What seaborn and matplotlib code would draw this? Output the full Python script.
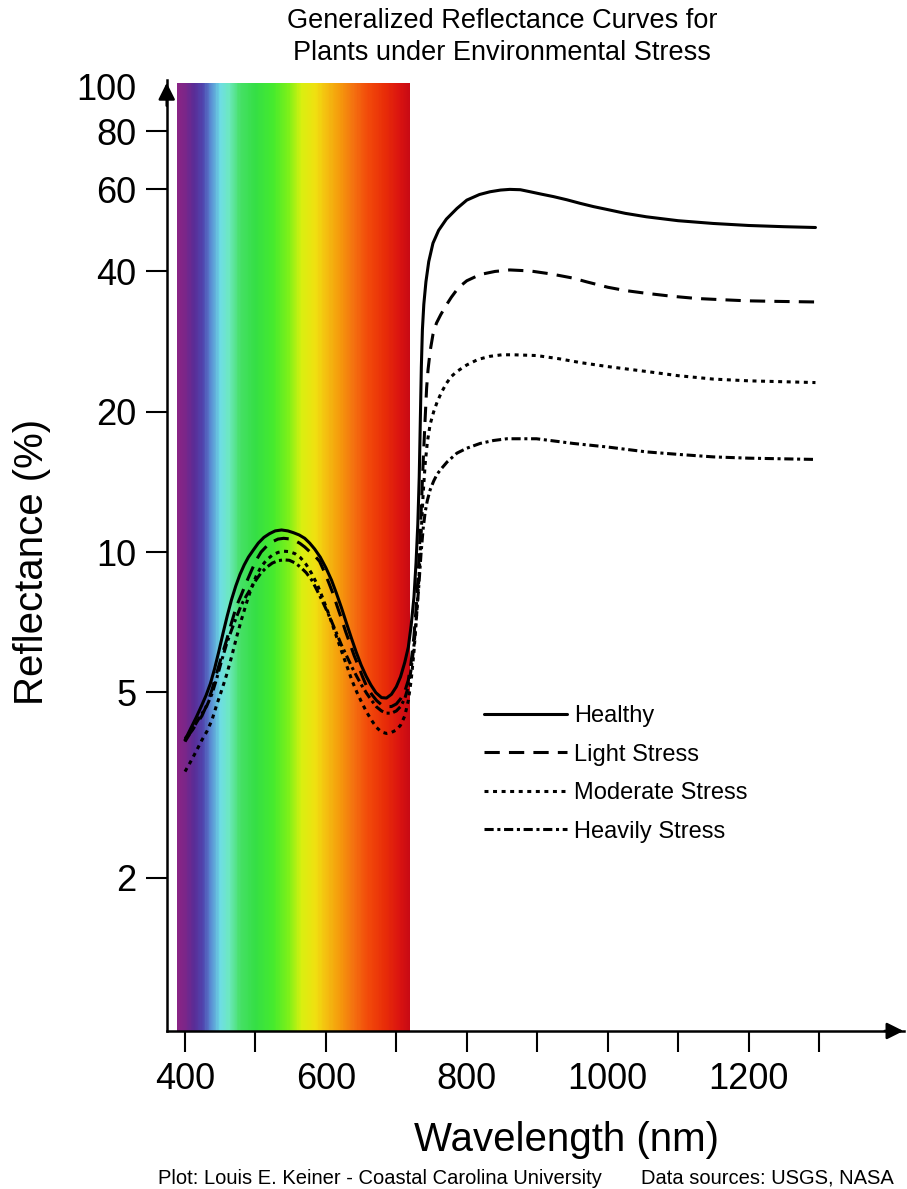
import numpy as np
import pandas as pd
import matplotlib
matplotlib.use("Agg")
import matplotlib.pyplot as plt
import seaborn as sns
from matplotlib.colors import LinearSegmentedColormap, Normalize
from matplotlib.ticker import NullLocator

# --- data (wavelength in nm, reflectance in %) ---
healthy_nm = [400, 408, 416, 424, 430, 436, 442, 448, 454, 460, 466, 472, 478, 484, 490, 497,
              504, 512, 520, 528, 537, 546, 554, 562, 570, 577, 584, 592, 600, 608, 615, 622,
              629, 636, 643, 650, 657, 664, 671, 679, 686, 693, 700, 706, 712, 717, 721, 725,
              728, 730.5, 732.5, 734, 735.5, 737, 739, 742, 746, 752, 760, 771, 786, 800, 818,
              833, 848, 861, 876, 890, 906, 923, 942, 961, 980, 1000, 1025, 1055, 1100, 1150,
              1200, 1250, 1295]
healthy_pct = [3.95, 4.18, 4.42, 4.7, 4.93, 5.22, 5.62, 6.12, 6.7, 7.3, 7.9, 8.45, 8.95, 9.38, 9.75, 10.1,
               10.45, 10.75, 10.95, 11.1, 11.15, 11.1, 11.0, 10.88, 10.7, 10.45, 10.15, 9.75, 9.25, 8.7, 8.15, 7.6,
               7.05, 6.55, 6.1, 5.72, 5.42, 5.18, 4.99, 4.87, 4.86, 4.95, 5.14, 5.4, 5.8, 6.25, 6.95, 8.0,
               9.5, 11.5, 14.5, 19, 25, 30, 34, 38, 42, 46, 49, 51.8, 54.6, 56.9, 58.5,
               59.3, 59.8, 60.0, 59.9, 59.3, 58.6, 57.9, 57.0, 56.0, 55.1, 54.3, 53.3, 52.4, 51.4, 50.7,
               50.2, 49.9, 49.7]

light_nm = [400, 408, 416, 424, 431, 438, 445, 452, 459, 466, 473, 480, 487, 494, 501, 508,
            516, 524, 532, 540, 548, 556, 563, 570, 577, 584, 591, 598, 604, 610, 616, 622,
            628, 634, 640, 646, 652, 658, 665, 672, 679, 686, 693, 700, 706, 712, 717, 721,
            725, 729, 732, 735, 738, 741, 743, 745, 748, 752, 757, 763, 770, 778, 788, 800,
            819, 840, 861, 890, 920, 951, 970, 985, 1000, 1025, 1055, 1090, 1126, 1160, 1197,
            1240, 1295]
light_pct = [3.98, 4.1, 4.27, 4.45, 4.7, 5.05, 5.5, 5.98, 6.47, 7.05, 7.65, 8.1, 8.6, 9.1, 9.6, 10.0,
             10.3, 10.52, 10.66, 10.7, 10.67, 10.58, 10.44, 10.25, 10.02, 9.82, 9.55, 9.05, 8.6, 8.15, 7.65, 7.2,
             6.75, 6.37, 6.0, 5.7, 5.4, 5.14, 4.95, 4.8, 4.7, 4.66, 4.66, 4.72, 4.84, 5.02, 5.31, 5.8,
             6.6, 7.9, 9.6, 12.0, 15.5, 19.5, 22.5, 24.6, 27, 29.3, 31.0, 32.3, 33.7, 35.2, 36.9, 38.2,
             39.4, 40.0, 40.3, 40.1, 39.5, 38.7, 38.0, 37.5, 37.0, 36.4, 35.9, 35.4, 35.0, 34.8, 34.6,
             34.5, 34.4]

moderate_nm = [400, 408, 416, 424, 431, 438, 445, 452, 459, 466, 473, 480, 487, 494, 501, 508,
               516, 524, 532, 540, 548, 556, 564, 572, 580, 588, 595, 602, 609, 616, 623, 630,
               637, 644, 651, 658, 665, 672, 679, 686, 693, 700, 706, 712, 717, 721, 725, 729,
               732, 735, 738, 741, 744, 748, 753, 758, 764, 771, 778, 786, 800, 816, 833, 850,
               866, 899, 930, 961, 1000, 1055, 1100, 1150, 1200, 1295]
moderate_pct = [3.38, 3.55, 3.74, 3.95, 4.12, 4.35, 4.7, 5.05, 5.45, 5.95, 6.55, 7.15, 7.75, 8.35, 8.88, 9.3,
                9.62, 9.85, 9.98, 10.04, 10.02, 9.92, 9.72, 9.4, 8.98, 8.5, 8.0, 7.5, 7.0, 6.52, 6.08, 5.68,
                5.3, 5.0, 4.75, 4.53, 4.35, 4.2, 4.11, 4.08, 4.1, 4.15, 4.25, 4.45, 4.8, 5.3, 6.1, 7.4,
                8.8, 10.8, 13.3, 15.5, 17.2, 18.8, 20.0, 21.0, 22.0, 23.0, 23.8, 24.4, 25.2, 25.9, 26.3, 26.5,
                26.5, 26.4, 26.0, 25.5, 25.0, 24.4, 23.9, 23.5, 23.3, 23.1]

heavy_nm = [400, 408, 416, 424, 431, 438, 445, 452, 459, 466, 473, 480, 487, 494, 501, 508,
            516, 524, 532, 540, 548, 556, 564, 572, 580, 587, 594, 601, 608, 615, 622, 630,
            637, 644, 651, 658, 665, 672, 679, 686, 693, 700, 706, 712, 717, 721, 725, 729,
            732, 735, 738, 741, 744, 748, 753, 758, 764, 772, 786, 800, 819, 838, 857, 878,
            899, 925, 951, 1000, 1055, 1100, 1150, 1200, 1295]
heavy_pct = [3.92, 4.1, 4.3, 4.5, 4.68, 4.95, 5.35, 5.85, 6.35, 6.8, 7.25, 7.7, 8.05, 8.38, 8.72, 9.02,
             9.28, 9.47, 9.58, 9.62, 9.6, 9.48, 9.28, 9.03, 8.7, 8.3, 7.9, 7.5, 7.1, 6.7, 6.32, 5.96,
             5.66, 5.4, 5.17, 4.97, 4.8, 4.65, 4.56, 4.51, 4.51, 4.56, 4.66, 4.85, 5.14, 5.6, 6.3, 7.4,
             8.5, 9.9, 11.2, 12.2, 12.9, 13.6, 14.2, 14.7, 15.1, 15.6, 16.3, 16.7, 17.1, 17.35, 17.5, 17.5,
             17.5, 17.3, 17.1, 16.8, 16.4, 16.2, 16.0, 15.9, 15.8]

conditions = ["Healthy", "Light Stress", "Moderate Stress", "Heavily Stress"]

x_ticks = [400, 500, 600, 700, 800, 900, 1000, 1100, 1200, 1300]
x_ticklabels = ["400", "", "600", "", "800", "", "1000", "", "1200", ""]
y_ticks = [2, 5, 10, 20, 40, 60, 80, 100]
y_ticklabels = ["2", "5", "10", "20", "40", "60", "80", "100"]

# visible band colour stops
band_nm = [388, 400, 412, 425, 437, 450, 462, 478, 500, 525, 548, 565, 585, 600, 620, 640, 660, 685, 705, 719]
band_colors = ["#8B2384", "#7A2689", "#5A2C96", "#4F45AE", "#5A8FD4", "#6EDDE4", "#6CE8C0", "#46E066",
               "#35DF45", "#45EA2E", "#80F018", "#D8F010", "#F0E010", "#F4C010", "#F59A0C", "#F47010",
               "#F24A0A", "#E82C08", "#DA1410", "#C80A14"]

df = pd.concat([
    pd.DataFrame({"nm": healthy_nm, "pct": healthy_pct, "condition": "Healthy"}),
    pd.DataFrame({"nm": light_nm, "pct": light_pct, "condition": "Light Stress"}),
    pd.DataFrame({"nm": moderate_nm, "pct": moderate_pct, "condition": "Moderate Stress"}),
    pd.DataFrame({"nm": heavy_nm, "pct": heavy_pct, "condition": "Heavily Stress"}),
], ignore_index=True)

sns.set_theme(style="ticks")
plt.rcParams["font.family"] = ["Liberation Sans", "DejaVu Sans"]
plt.rcParams["text.color"] = "black"
plt.rcParams["axes.labelcolor"] = "black"

fig = plt.figure(figsize=(9.07, 11.89), dpi=100)
ax = fig.add_axes([0.1838, 0.1329, 0.8129, 0.7998])
ax.set_yscale("log")
ax.set_xlim(374, 1420.7)
ax.set_ylim(0.938, 103)

# spectrum band behind the curves
cmap = LinearSegmentedColormap.from_list(
    "band", [((v - band_nm[0]) / (band_nm[-1] - band_nm[0]), c) for v, c in zip(band_nm, band_colors)])
edges = np.linspace(band_nm[0], band_nm[-1], 300)
mids = (edges[:-1] + edges[1:]) / 2
ylo, yhi = ax.get_ylim()
ax.pcolormesh(edges, [ylo, 101.5], mids[None, :], cmap=cmap,
              norm=Normalize(band_nm[0], band_nm[-1]), shading="flat",
              antialiased=False, linewidth=0, zorder=0, rasterized=True)

dash_map = {"Healthy": "", "Light Stress": (5, 3), "Moderate Stress": (1.3, 1.5),
            "Heavily Stress": (3, 1.2, 1, 1.2)}
sns.lineplot(data=df, x="nm", y="pct", style="condition", style_order=conditions,
             dashes=dash_map, color="black", linewidth=2.2, estimator=None, sort=False,
             ax=ax, zorder=3)

handles, labels = ax.get_legend_handles_labels()
for h in handles:
    h.set_linewidth(2.2)
    h.set_color("black")
ax.legend(handles, labels, loc="upper left", bbox_to_anchor=(484 / 907, 1 - 705 / 1189),
          bbox_transform=fig.transFigure, frameon=False, fontsize=17, handlelength=3.5,
          handletextpad=0.3, labelspacing=0.7, borderpad=0, borderaxespad=0)

ax.set_xticks(x_ticks)
ax.set_xticklabels(x_ticklabels)
ax.set_yticks(y_ticks)
ax.set_yticklabels(y_ticklabels)
ax.yaxis.set_minor_locator(NullLocator())
ax.yaxis.get_major_ticks()[-1].tick1line.set_visible(False)
ax.tick_params(axis="both", direction="out", length=15, width=1.5, labelsize=26,
               pad=7, colors="black")

for side in ["top", "right"]:
    ax.spines[side].set_visible(False)
for side in ["left", "bottom"]:
    ax.spines[side].set_linewidth(1.8)
    ax.spines[side].set_color("black")

ax.annotate("", xy=(0, 1), xycoords="axes fraction", xytext=(0, 0.97),
            arrowprops=dict(arrowstyle="-|>", color="black", lw=1.8, mutation_scale=25),
            annotation_clip=False)
ax.annotate("", xy=(1.003, 0), xycoords="axes fraction", xytext=(0.97, 0),
            arrowprops=dict(arrowstyle="-|>", color="black", lw=1.8, mutation_scale=25),
            annotation_clip=False)

ax.set_xlabel("Wavelength (nm)", fontsize=29)
ax.set_ylabel("Reflectance (%)", fontsize=29)
ax.xaxis.set_label_coords(0.5416, -0.1146)
ax.xaxis.label.set_va("center")
ax.yaxis.set_label_coords(-0.1827, 0.493)
ax.yaxis.label.set_va("center")

fig.text(502 / 907, 1 - 37 / 1189, "Generalized Reflectance Curves for\nPlants under Environmental Stress",
         ha="center", va="center", fontsize=19.5, linespacing=1.25)
fig.text(158 / 907, 1 - 1178 / 1189, "Plot: Louis E. Keiner - Coastal Carolina University",
         ha="left", va="center", fontsize=14.5)
fig.text(641 / 907, 1 - 1178 / 1189, "Data sources: USGS, NASA",
         ha="left", va="center", fontsize=14.5)

fig.savefig("out.png", dpi=100)
